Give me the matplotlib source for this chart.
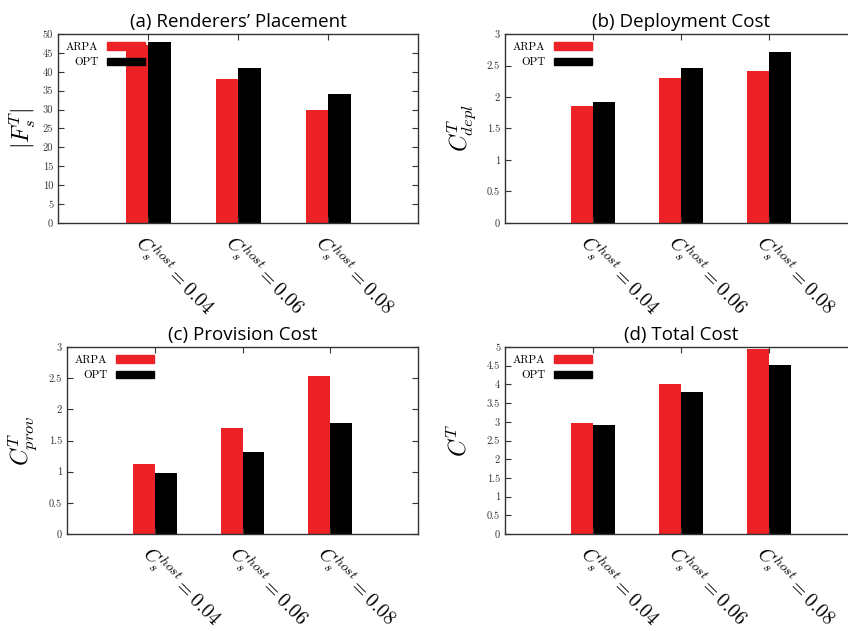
import numpy as np
from matplotlib import pyplot as plt
from matplotlib.patches import Patch
from matplotlib.ticker import FuncFormatter, MultipleLocator

plt.rcParams['mathtext.fontset'] = 'cm'
plt.rcParams['font.family'] = ['cmr10', 'DejaVu Serif']
plt.rcParams['axes.formatter.use_mathtext'] = True

# Data
hosts = ['0.04', '0.06', '0.08']
series = ['ARPA', 'OPT']
colors = ['#ec2227', '#000000']

placement_arpa = [47, 38, 30]
placement_opt = [48, 41, 34]
depl_arpa = [1.86, 2.30, 2.42]
depl_opt = [1.92, 2.46, 2.72]
prov_arpa = [1.12, 1.70, 2.53]
prov_opt = [0.98, 1.32, 1.78]
total_arpa = [2.97, 4.00, 4.95]
total_opt = [2.91, 3.79, 4.51]

W, H = 848, 631
fig = plt.figure(figsize=(W / 100, H / 100), dpi=100)


def px_axes(left, top, right, bottom):
    return fig.add_axes([left / W, 1 - bottom / H, (right - left) / W, (bottom - top) / H])


panels = [
    (px_axes(58, 34, 418, 223), '(a) Renderers\u2019 Placement', r'$|F_s^T|$',
     placement_arpa, placement_opt, 50, 5, 35),
    (px_axes(505, 34, 857, 223), '(b) Deployment Cost', r'$C_{depl}^T$',
     depl_arpa, depl_opt, 3, 0.5, 43),
    (px_axes(67, 347, 418, 534), '(c) Provision Cost', r'$C_{prov}^T$',
     prov_arpa, prov_opt, 3, 0.5, 44),
    (px_axes(505, 347, 857, 534), '(d) Total Cost', r'$C^T$',
     total_arpa, total_opt, 5, 0.5, 46),
]

x = np.arange(len(hosts))
width = 0.25

for ax, title, ylabel, arpa, opt, ymax, step, lab_off in panels:
    ax.bar(x - width / 2, arpa, width, color=colors[0])
    ax.bar(x + width / 2, opt, width, color=colors[1])
    ax.set_xlim(-1, 3)
    ax.set_ylim(0, ymax)
    ax.yaxis.set_major_locator(MultipleLocator(step))
    ax.yaxis.set_major_formatter(FuncFormatter(lambda v, p: '%g' % v))
    ax.tick_params(direction='in', top=True, right=True, length=4, width=0.8,
                   labelsize=7.5, colors='#333333')
    ax.set_xticks(x)
    ax.set_xticklabels([r'$C_s^{host} = ' + h + '$' for h in hosts],
                       rotation=-45, ha='left', va='top', rotation_mode='anchor',
                       fontsize=14, color='black')
    ax.tick_params(axis='x', pad=5)
    for s in ax.spines.values():
        s.set_linewidth(1.0)
        s.set_color('#333333')
    ax.set_title(title, family='Open Sans', fontsize=13.5, pad=5)
    ax.set_ylabel(ylabel, fontsize=17, va='center')
    ax.yaxis.set_label_coords(-lab_off / (ax.get_position().width * W), 0.5)
    handles = [Patch(color=c) for c in colors]
    ax.legend(handles, series, loc='upper left', frameon=False, markerfirst=False,
              fontsize=8, handlelength=3.4, handleheight=0.7, labelspacing=0.55,
              borderaxespad=0.3, bbox_to_anchor=(0.0, 1.0), handletextpad=0.8)

fig.savefig('out.png', dpi=100)
